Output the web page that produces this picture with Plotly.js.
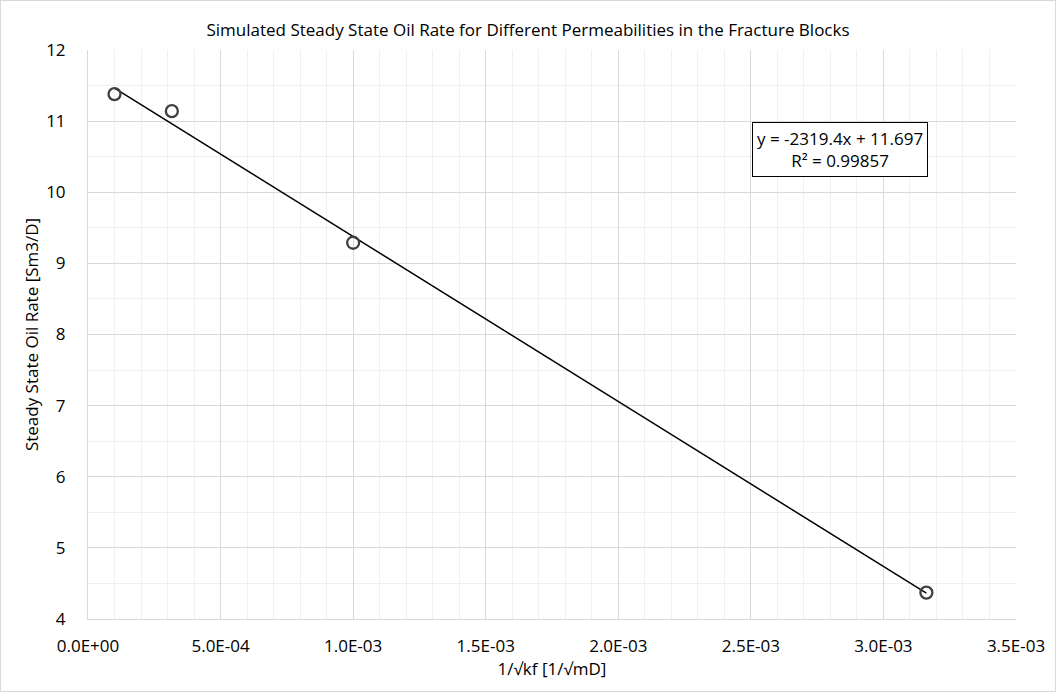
<!DOCTYPE html>
<html>
<head>
<meta charset="utf-8">
<script src="https://cdn.plot.ly/plotly-3.0.1.min.js"></script>
<style>
  html, body { margin: 0; padding: 0; background: #ffffff; }
  #chart { width: 1056px; height: 693px; position: absolute; left: 0; top: 0; }
  #frame { position: absolute; left: 0; top: 0; width: 1054px; height: 690px;
           border: 1px solid #d9d9d9; pointer-events: none; }
</style>
</head>
<body>
<div id="chart"></div>
<div id="frame"></div>
<script>
// Inverse square root of fracture permeability, 1/sqrt(kf) [1/sqrt(mD)]
const invSqrtKf = [1.0e-4, 3.162e-4, 1.0e-3, 3.162e-3];
// Simulated steady state oil rate [Sm3/D]
const oilRate = [11.38, 11.14, 9.29, 4.37];

// Linear trendline coefficients (as given in the equation label)
const trendSlope = [-2319.4];
const trendIntercept = [11.697];
const trendR2 = [0.99857];

// Axis tick values and their labels
const xTickVals = [0, 5e-4, 1e-3, 1.5e-3, 2e-3, 2.5e-3, 3e-3, 3.5e-3];
const xTickText = ['0.0E+00', '5.0E-04', '1.0E-03', '1.5E-03', '2.0E-03', '2.5E-03', '3.0E-03', '3.5E-03'];
const yTickVals = [4, 5, 6, 7, 8, 9, 10, 11, 12];
const yTickText = ['4', '5', '6', '7', '8', '9', '10', '11', '12'];

const xMin = Math.min(...invSqrtKf);
const xMax = Math.max(...invSqrtKf);
const trendX = [xMin, xMax];
const trendY = trendX.map(x => trendSlope[0] * x + trendIntercept[0]);

const font = 'Open Sans, sans-serif';

const traces = [
  {
    x: trendX, y: trendY,
    type: 'scatter', mode: 'lines',
    line: { color: '#000000', width: 1.5 },
    hoverinfo: 'skip', showlegend: false
  },
  {
    x: invSqrtKf, y: oilRate,
    type: 'scatter', mode: 'markers',
    marker: { symbol: 'circle-open', size: 12, color: '#404040', line: { width: 2.3, color: '#404040' } },
    showlegend: false
  }
];

const layout = {
  width: 1056, height: 693,
  margin: { l: 88, r: 40, t: 50, b: 74 },
  paper_bgcolor: '#ffffff', plot_bgcolor: '#ffffff',
  font: { family: font, color: '#000000', size: 17 },
  title: {
    text: 'Simulated Steady State Oil Rate for Different Permeabilities in the Fracture Blocks',
    font: { family: font, size: 17, color: '#000000' },
    x: 0.5, xanchor: 'center', y: 0.957, yanchor: 'middle'
  },
  xaxis: {
    range: [0, 3.5e-3],
    tickvals: xTickVals, ticktext: xTickText,
    showgrid: true, gridcolor: '#d9d9d9', gridwidth: 1,
    minor: { dtick: 1e-4, tick0: 0, showgrid: true, gridcolor: '#f0f0f0', gridwidth: 1 },
    zeroline: false, showline: true, linecolor: '#d9d9d9', linewidth: 1,
    ticks: '', ticklabelstandoff: 12,
    tickfont: { family: font, size: 17, color: '#000000' },
    title: { text: '1/√kf [1/√mD]', font: { family: font, size: 17, color: '#000000' }, standoff: 3 }
  },
  yaxis: {
    range: [4, 12],
    tickvals: yTickVals, ticktext: yTickText,
    showgrid: true, gridcolor: '#d9d9d9', gridwidth: 1,
    minor: { dtick: 0.5, tick0: 4, showgrid: true, gridcolor: '#f0f0f0', gridwidth: 1 },
    zeroline: false, showline: true, linecolor: '#d9d9d9', linewidth: 1,
    ticks: '', ticklabelstandoff: 18,
    tickfont: { family: font, size: 17, color: '#000000' },
    title: { text: 'Steady State Oil Rate [Sm3/D]', font: { family: font, size: 17, color: '#000000' }, standoff: 3 }
  },
  annotations: [
    {
      xref: 'paper', yref: 'paper', x: 0.8103, y: 0.8243,
      xanchor: 'center', yanchor: 'middle',
      text: 'y = ' + trendSlope[0] + 'x + ' + trendIntercept[0] + '<br>R² = ' + trendR2[0],
      showarrow: false, align: 'center',
      font: { family: font, size: 17, color: '#000000' },
      bgcolor: '#ffffff', bordercolor: '#000000', borderwidth: 1, borderpad: 4
    }
  ]
};

Plotly.newPlot('chart', traces, layout, { displayModeBar: false, staticPlot: true });
</script>
</body>
</html>
